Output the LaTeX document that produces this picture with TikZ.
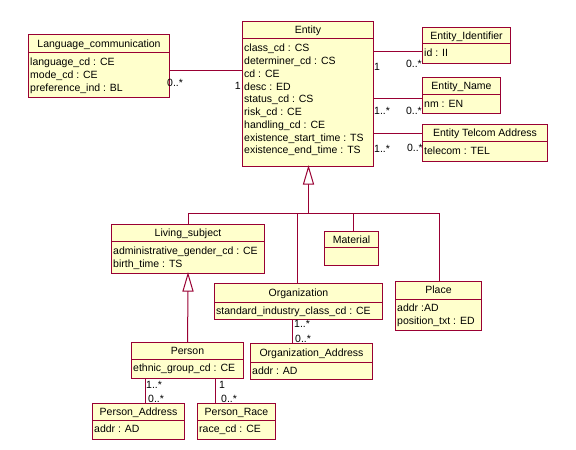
\documentclass[tikz,border=0pt]{standalone}
\usepackage{fontspec}
\setmainfont{Liberation Sans}
\usetikzlibrary{calc}
\definecolor{umlred}{RGB}{153,0,51}
\definecolor{umlfill}{RGB}{255,255,204}
\tikzset{
  classbox/.style={draw=umlred, fill=umlfill, line width=1bp, inner sep=0pt, rectangle},
  umlline/.style={draw=umlred, line width=1bp},
  classtitle/.style={font=\fontsize{10.5bp}{12bp}\selectfont, inner sep=0pt, text=black},
  classattr/.style={font=\fontsize{10.5bp}{12bp}\selectfont, inner sep=0pt, text=black},
  mult/.style={font=\fontsize{10.5bp}{12bp}\selectfont, inner sep=0pt, text=black},
  gentri/.style={draw=umlred, fill=white, line width=1bp},
}
\newcommand{\umlclass}[8]{%
  \node[classbox, minimum width=#4bp, minimum height=#5bp, anchor=north west] (#1) at (#2,#3) {};
  \draw[umlline] ([yshift=-#6bp]#1.north west) -- ([yshift=-#6bp]#1.north east);
  \node[classtitle, anchor=base] (#1-t) at ([yshift=-#6bp/2-3.8bp]#1.north) {#7};
  \foreach \a [count=\i from 0] in {#8} {%
    \node[classattr, anchor=base west] (#1-\i) at ([xshift=2bp,yshift=-#6bp-9bp-3.8bp-\i*12.75bp]#1.north west) {\a};
  }%
}
\begin{document}
\begin{tikzpicture}[x=1bp,y=-1bp]
\useasboundingbox (0,0) rectangle (576,450);
\fill[white] (0,0) rectangle (576,450);

% classes
\umlclass{ent}{242}{21}{131}{145}{18}{Entity}{class\_cd : CS, determiner\_cd : CS, cd : CE, desc : ED, status\_cd : CS, risk\_cd : CE, handling\_cd : CE, existence\_start\_time : TS, existence\_end\_time : TS}
\umlclass{lang}{28}{34}{141}{63}{19}{Language\_communication}{language\_cd : CE, mode\_cd : CE, preference\_ind : BL}
\umlclass{eid}{422}{27}{88}{36}{17}{Entity\_Identifier}{id : II}
\umlclass{ename}{422}{77}{78}{36}{18}{Entity\_Name}{nm : EN}
\umlclass{etel}{422}{124}{125}{37}{18}{Entity Telcom Address}{telecom : TEL}
\umlclass{lsub}{111}{224}{153}{49}{18}{Living\_subject}{administrative\_gender\_cd : CE, birth\_time : TS}
\umlclass{mat}{324}{231}{54}{34}{17}{Material}{}
\umlclass{org}{214}{283}{168}{36}{19}{Organization}{standard\_industry\_class\_cd : CE}
\umlclass{place}{395}{281}{86}{49}{18}{Place}{addr :AD, position\_txt : ED}
\umlclass{pers}{131}{342}{112}{36}{17}{Person}{ethnic\_group\_cd : CE}
\umlclass{oaddr}{250}{343}{122}{36}{19}{Organization\_Address}{addr : AD}
\umlclass{paddr}{92}{403}{92}{36}{17}{Person\_Address}{addr : AD}
\umlclass{prace}{197}{403}{78}{36}{17}{Person\_Race}{race\_cd : CE}

% generalization: Entity
\coordinate (t1tip) at ([xshift=0.5bp]ent.south);
\coordinate (t1base) at ($(t1tip)+(0,17)$);
\coordinate (j1) at ($(t1tip)+(0,46)$);
\draw[umlline] (t1base) -- (j1);
\draw[umlline] (lsub.north |- j1) -- (place.north |- j1);
\draw[umlline] (lsub.north |- j1) -- (lsub.north);
\draw[umlline] ([xshift=-1bp]org.north |- j1) -- ([xshift=-1bp]org.north);
\draw[umlline] ([xshift=2bp]mat.north |- j1) -- ([xshift=2bp]mat.north);
\draw[umlline] ([xshift=1bp]place.north |- j1) -- ([xshift=1bp]place.north);
\draw[gentri] (t1tip) -- ($(t1tip)+(-5,17)$) -- ($(t1tip)+(5,17)$) -- cycle;

% generalization: Living_subject
\coordinate (t2tip) at (lsub.south);
\draw[umlline] ($(t2tip)+(0,17)$) -- (pers.north);
\draw[gentri] (t2tip) -- ($(t2tip)+(-5,17)$) -- ($(t2tip)+(5,17)$) -- cycle;

% associations
\coordinate (a1) at (0,71);
\draw[umlline] (lang.east |- a1) -- (ent.west |- a1);
\node[mult, anchor=west] (m1a) at (167,83) {0..*};
\node[mult, anchor=east] (m1b) at (241,86) {1};

\coordinate (a2) at (0,52);
\draw[umlline] (ent.east |- a2) -- (eid.west |- a2);
\node[mult, anchor=west] (m2a) at (374,67) {1};
\node[mult, anchor=east] (m2b) at (422,64) {0..*};

\coordinate (a3) at (0,99);
\draw[umlline] (ent.east |- a3) -- (ename.west |- a3);
\node[mult, anchor=west] (m3a) at (374,111) {1..*};
\node[mult, anchor=east] (m3b) at (422,111) {0..*};

\coordinate (a4) at (0,134);
\draw[umlline] (ent.east |- a4) -- (etel.west |- a4);
\node[mult, anchor=west] (m4a) at (374,149) {1..*};
\node[mult, anchor=east] (m4b) at (423,148) {0..*};

\coordinate (a5) at (292,0);
\draw[umlline] (a5 |- org.south) -- (a5 |- oaddr.north);
\node[mult, anchor=west] (m5a) at (294,324) {1..*};
\node[mult, anchor=west] (m5b) at (295,339) {0..*};

\coordinate (a6) at (145,0);
\draw[umlline] (a6 |- pers.south) -- (a6 |- paddr.north);
\node[mult, anchor=west] (m6a) at (146,385) {1..*};
\node[mult, anchor=west] (m6b) at (148,399) {0..*};

\coordinate (a7) at (215,0);
\draw[umlline] (a7 |- pers.south) -- (a7 |- prace.north);
\node[mult, anchor=west] (m7a) at (219,385) {1};
\node[mult, anchor=west] (m7b) at (221,399) {0..*};
\end{tikzpicture}
\end{document}
